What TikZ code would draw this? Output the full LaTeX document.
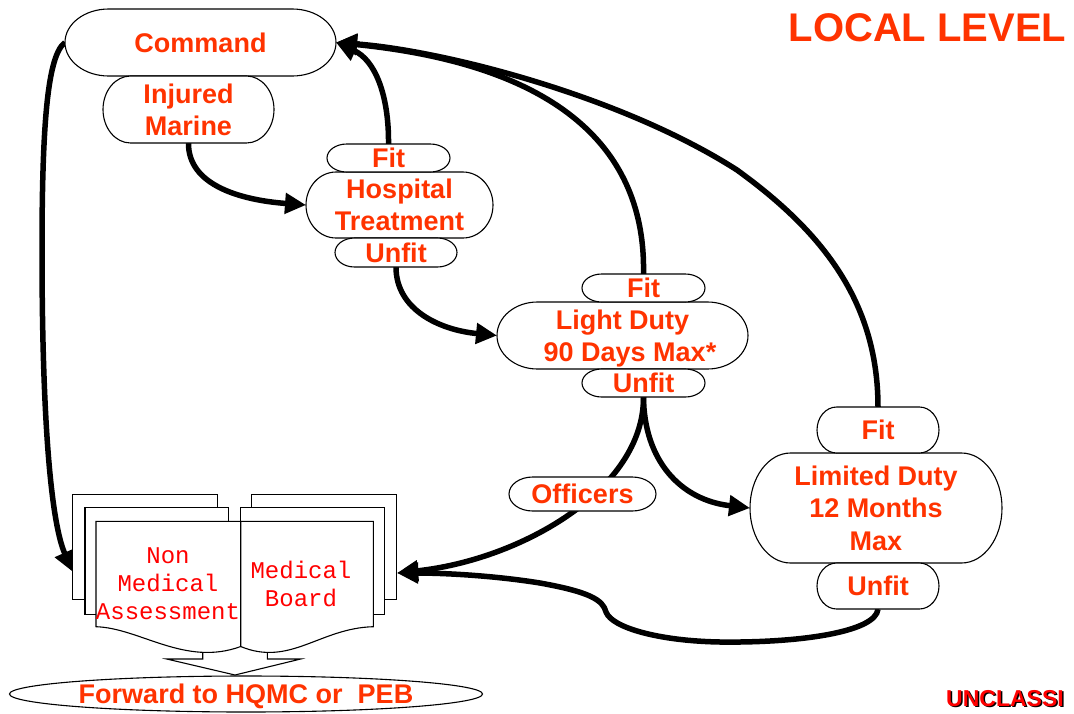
\documentclass[tikz,border=0pt]{standalone}
\usepackage{fontspec}
\setmainfont{Liberation Sans}
\newfontfamily\labfont{Liberation Sans}
\newfontfamily\monofont{Liberation Mono}
\usetikzlibrary{arrows.meta,shapes.geometric}
\definecolor{lab}{HTML}{FF3300}
\definecolor{mono}{HTML}{FF0000}
\pgfdeclarelayer{bg}
\pgfsetlayers{bg,main}
% terminator-like box: name, cx, cy, w, h, text
\newcommand\term[6]{%
  \pgfmathsetmacro\Tl{#2-#4/2}\pgfmathsetmacro\Tr{#2+#4/2}%
  \pgfmathsetmacro\Tt{#3-#5/2}\pgfmathsetmacro\Tb{#3+#5/2}%
  \pgfmathsetmacro\Rx{0.161*#4}\pgfmathsetmacro\Ry{#5/2}%
  \pgfmathsetmacro\Kx{0.4477*\Rx}\pgfmathsetmacro\Ky{0.5523*\Ry}%
  \draw[outl] (\Tl+\Rx,\Tt) -- (\Tr-\Rx,\Tt)
    .. controls (\Tr-\Kx,\Tt) and (\Tr,#3-\Ky) .. (\Tr,#3)
    .. controls (\Tr,#3+\Ky) and (\Tr-\Kx,\Tb) .. (\Tr-\Rx,\Tb)
    -- (\Tl+\Rx,\Tb)
    .. controls (\Tl+\Kx,\Tb) and (\Tl,#3+\Ky) .. (\Tl,#3)
    .. controls (\Tl,#3-\Ky) and (\Tl+\Kx,\Tt) .. (\Tl+\Rx,\Tt) -- cycle;
  \node[lbl, minimum width=#4pt, minimum height=#5pt] (#1) at (#2,#3) {#6};
}
\begin{document}
\begin{tikzpicture}[x=1pt,y=-1pt,
  lbl/.style={inner sep=0pt, outer sep=0pt, text=lab, align=center, text depth=0pt,
    font=\labfont\fontsize{27}{32.4}\selectfont\bfseries},
  outl/.style={draw=black, line width=1.1pt, fill=white},
  conn/.style={line width=5.5pt, -{Triangle[length=21pt,width=20pt]}},
  page/.style={draw=black, line width=1.1pt, fill=white},
  monotxt/.style={inner sep=0pt, text=mono, align=center,
    font=\monofont\fontsize{24}{28}\selectfont},
]
\useasboundingbox (0,0) rectangle (1074,713);

% title
\node[inner sep=0pt, text=lab, text depth=0pt,
  font=\labfont\fontsize{40}{48}\selectfont\bfseries] (title) at (927.5,28) {LOCAL LEVEL};

% boxes
\term{cmd}{200.5}{42.5}{271}{67}{Command}
\term{im}{188.5}{109.5}{171}{67}{Injured\\Marine}
\term{ht}{399.5}{205}{187}{66}{Hospital\\Treatment}
\term{hfit}{388.5}{158}{123}{28}{Fit}
\term{hunfit}{396}{252.5}{122}{29}{Unfit}
\term{ld}{622.5}{335.5}{251}{67}{Light Duty\\\hspace*{15pt}90 Days Max*}
\term{ldfit}{643.5}{288}{123}{28}{Fit}
\term{ldunfit}{643.5}{383}{123}{28}{Unfit}
\term{lim}{876}{508}{252}{110}{Limited Duty\\12 Months\\Max}
\term{limfit}{878}{430}{122}{46}{Fit}
\term{limunfit}{878}{586}{122}{46}{Unfit}
\term{off}{582.5}{494}{147}{34}{Officers}

% block arrow under the documents
\draw[page] (202.7,640) -- (202.7,659) -- (166.7,659) -- (235,675) -- (300.7,659)
  -- (267.3,659) -- (267.3,640) -- cycle;
% document stacks
\draw[page] (72.7,494.3) rectangle (217.3,599.3);
\draw[page] (85,507.7) rectangle (228.3,614.3);
\draw[page] (251.7,494.3) rectangle (396.7,599.3);
\draw[page] (240.7,507.7) rectangle (384.3,614.3);
\draw[page] (96,521.3) -- (240.7,521.3) -- (240.7,646.5)
  .. controls (185,667) and (140,628) .. (96,626.7) -- cycle;
\draw[page] (240.7,521.3) -- (373.3,521.3) -- (373.3,626.7)
  .. controls (320,628) and (290,667) .. (240.7,646.5) -- cycle;
\node[monotxt] (nma) at (168,584) {Non\\Medical\\Assessment};
\node[monotxt] (mb) at (301,584) {Medical\\Board};
\coordinate (docL) at (73,572);
\coordinate (docR) at (397,573);

% forward ellipse
\node[ellipse, draw=black, line width=1.1pt, fill=white, minimum width=468pt,
  minimum height=36pt, inner sep=0pt, text=lab, text depth=0pt,
  font=\labfont\fontsize{27}{32.4}\selectfont\bfseries] (fwd) at (246,694) {Forward to HQMC or\ \ PEB};

% classification marking
\node[anchor=base west, inner sep=0pt, text=black,
  font=\labfont\fontsize{23}{27}\selectfont\bfseries] (unclsh) at (947.5,707.5) {UNCLASSI};
\node[anchor=base west, inner sep=0pt, text=mono,
  font=\labfont\fontsize{23}{27}\selectfont\bfseries] (uncl) at (946,706) {UNCLASSI};

% connectors
\begin{pgfonlayer}{bg}
\draw[conn] (cmd.west) .. controls (48,55) and (42,120) .. (42,250)
  .. controls (42,430) and (52,525) .. (docL);
\draw[conn] (im.south) .. controls (188,185) and (240,200) .. (ht.west);
\draw[conn] (hfit.north) .. controls (389,95) and (375,60) .. (cmd.east);
\draw[conn] (hunfit.south) .. controls (396,310) and (440,330) .. (ld.west);
\draw[conn] (ldfit.north) .. controls (646,150) and (560,65) .. (cmd.east);
\draw[conn] (limfit.north) .. controls (878,300) and (820,230) .. (737,170)
  .. controls (620,95) and (440,50) .. (cmd.east);
\draw[conn] (ldunfit.south) .. controls (644,460) and (680,500) .. (lim.west);
\draw[conn] (ldunfit.south) .. controls (644,490) and (520,560) .. (docR);
\draw[conn] (limunfit.south) .. controls (876,632) and (800,643) .. (720,642)
  .. controls (660,641) and (612,628) .. (606,612)
  .. controls (603,600) and (590,592) .. (540,583)
  .. controls (490,575) and (440,573) .. (docR);
\end{pgfonlayer}
\end{tikzpicture}
\end{document}
